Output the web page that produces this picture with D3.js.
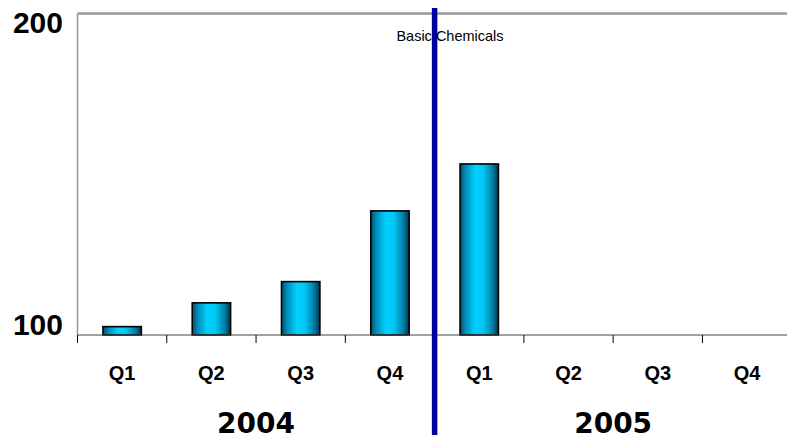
<!DOCTYPE html>
<html>
<head>
<meta charset="utf-8">
<script src="https://cdn.jsdelivr.net/npm/d3@7/dist/d3.min.js"></script>
<style>
  html, body { margin: 0; padding: 0; background: #fff; }
  svg { display: block; }
</style>
</head>
<body>
<svg id="chart" width="787" height="440"></svg>
<script>
// Quarterly index, Basic Chemicals
const years = ["2004", "2005"];
const quarters = ["Q1", "Q2", "Q3", "Q4"];
const values2004 = [102.6, 110.0, 116.6, 138.6];
const values2005 = [153.2, null, null, null];
const yTicks = [100, 200];
const title = "Basic Chemicals";

const rows = [];
years.forEach((yr, i) => {
  const vals = i === 0 ? values2004 : values2005;
  quarters.forEach((q, j) => rows.push({ key: yr + "-" + q, year: yr, quarter: q, value: vals[j] }));
});

const W = 787, H = 440;
const margin = { left: 77.5, top: 13.5, bottom: 105 };
const plotRight = 791.7;

const svg = d3.select("#chart");

const x = d3.scaleBand()
  .domain(rows.map(d => d.key))
  .range([margin.left, plotRight])
  .paddingInner(0.57)
  .paddingOuter(0.285);

const xOuter = d3.scaleBand()
  .domain(rows.map(d => d.key))
  .range([margin.left, plotRight]);

const y = d3.scaleLinear()
  .domain([100, 200])
  .range([H - margin.bottom, margin.top]);

// bar gradient
const defs = svg.append("defs");
const grad = defs.append("linearGradient")
  .attr("id", "barGrad")
  .attr("x1", "0%").attr("x2", "100%").attr("y1", "0%").attr("y2", "0%");
[
  [0, "#00506c"], [0.15, "#0090ba"], [0.4, "#00d0ff"], [0.6, "#00c8f6"],
  [0.85, "#007ea6"], [1, "#003246"]
].forEach(([o, c]) => grad.append("stop").attr("offset", o).attr("stop-color", c));

// plot frame: top and left edges
svg.append("line")
  .attr("x1", margin.left).attr("x2", W)
  .attr("y1", y(200)).attr("y2", y(200))
  .attr("stroke", "#999").attr("stroke-width", 2.5);
svg.append("line")
  .attr("x1", margin.left).attr("x2", margin.left)
  .attr("y1", y(200)).attr("y2", y(100))
  .attr("stroke", "#999").attr("stroke-width", 1.5);

// bars
svg.append("g").selectAll("rect")
  .data(rows.filter(d => d.value != null))
  .join("rect")
  .attr("x", d => x(d.key))
  .attr("width", x.bandwidth())
  .attr("y", d => y(d.value))
  .attr("height", d => y(100) - y(d.value))
  .attr("fill", "url(#barGrad)")
  .attr("stroke", "#000")
  .attr("stroke-width", 1.6);

// x axis with ticks between categories
const axisY = y(100);
svg.append("line")
  .attr("x1", margin.left).attr("x2", W)
  .attr("y1", axisY).attr("y2", axisY)
  .attr("stroke", "#444").attr("stroke-width", 1);
svg.append("g").selectAll("line")
  .data(rows)
  .join("line")
  .attr("x1", d => xOuter(d.key)).attr("x2", d => xOuter(d.key))
  .attr("y1", axisY).attr("y2", axisY + 8)
  .attr("stroke", "#000").attr("stroke-width", 1);

// quarter labels
svg.append("g").selectAll("text")
  .data(rows)
  .join("text")
  .attr("x", d => xOuter(d.key) + xOuter.bandwidth() / 2)
  .attr("y", 380)
  .attr("text-anchor", "middle")
  .attr("font-family", "Liberation Sans, Arial, sans-serif")
  .attr("font-weight", "bold")
  .attr("font-size", 20)
  .attr("fill", "#000")
  .text(d => d.quarter);

// year labels centered under their quarters
svg.append("g").selectAll("text")
  .data(years)
  .join("text")
  .attr("x", yr => {
    const ks = rows.filter(r => r.year === yr).map(r => r.key);
    return (xOuter(ks[0]) + xOuter(ks[ks.length - 1]) + xOuter.bandwidth()) / 2;
  })
  .attr("y", 433)
  .attr("text-anchor", "middle")
  .attr("font-family", "DejaVu Sans, Verdana, sans-serif")
  .attr("font-weight", "bold")
  .attr("font-size", 28)
  .attr("fill", "#000")
  .text(yr => yr);

// y tick labels
svg.append("g").selectAll("text")
  .data(yTicks)
  .join("text")
  .attr("x", 63)
  .attr("y", v => Math.max(y(v), 33))
  .attr("text-anchor", "end")
  .attr("font-family", "Liberation Sans, Arial, sans-serif")
  .attr("font-weight", "bold")
  .attr("font-size", 30)
  .attr("fill", "#000")
  .text(v => v);

// year divider
const divX = xOuter(rows.find(r => r.year === years[1]).key);
svg.append("line")
  .attr("x1", divX).attr("x2", divX)
  .attr("y1", 8).attr("y2", 435)
  .attr("stroke", "#00009e").attr("stroke-width", 5.5);

// title
svg.append("text")
  .attr("x", 450)
  .attr("y", 40.5)
  .attr("text-anchor", "middle")
  .attr("font-family", "Liberation Sans, Arial, sans-serif")
  .attr("font-size", 14.5)
  .attr("fill", "#000")
  .text(title);
</script>
</body>
</html>
